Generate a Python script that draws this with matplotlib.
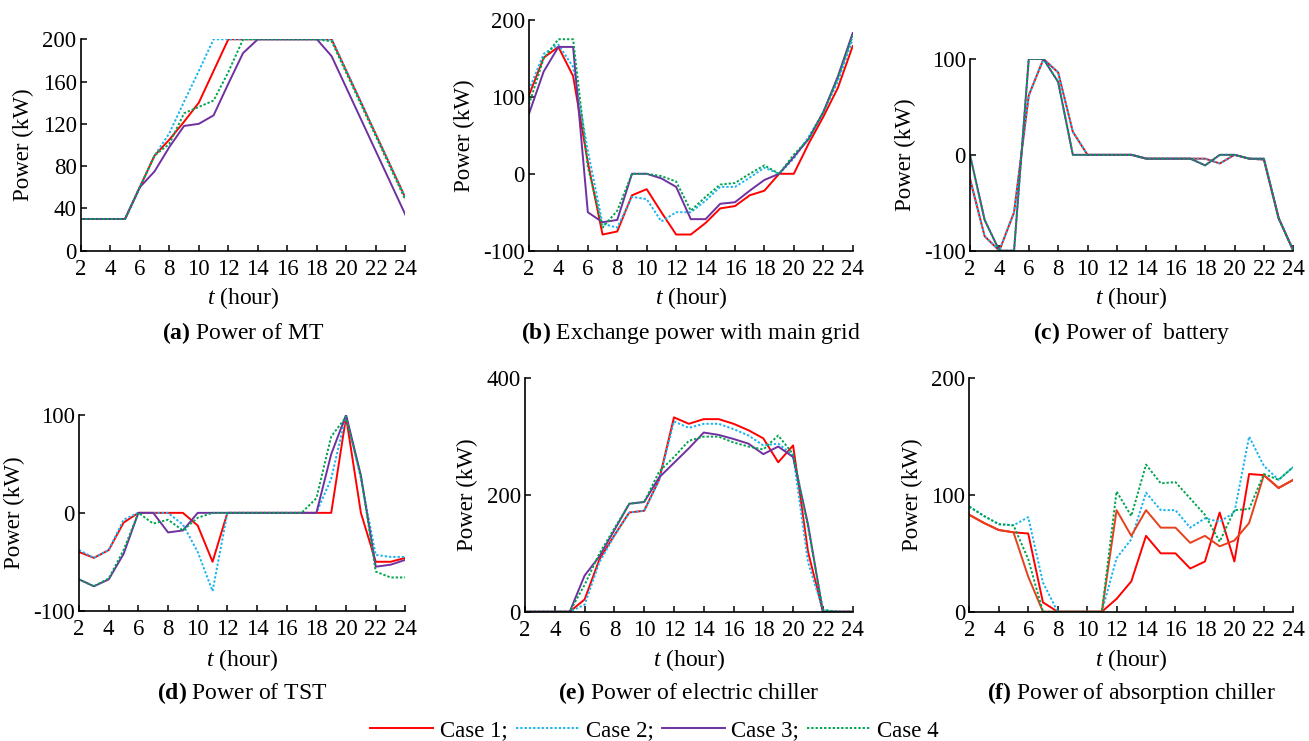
import numpy as np
import matplotlib
matplotlib.use("Agg")
from matplotlib import pyplot as plt

plt.rcParams['font.family'] = ['Liberation Serif', 'DejaVu Serif']
plt.rcParams['mathtext.fontset'] = 'custom'
plt.rcParams['mathtext.rm'] = 'Liberation Serif'
plt.rcParams['mathtext.it'] = 'Liberation Serif:italic'
plt.rcParams['mathtext.bf'] = 'Liberation Serif:bold'
plt.rcParams['axes.unicode_minus'] = False

hours = list(range(2, 25))

# (a) power of MT
mt_c1 = [30, 30, 30, 30, 60, 90, 105, 122, 140, 170, 200, 200, 200, 200, 200, 200, 200, 200, 170, 140, 110, 80, 50]
mt_c2 = [30, 30, 30, 30, 60, 90, 111, 141, 170, 200, 200, 200, 200, 200, 200, 200, 200, 200, 170, 140, 110, 80, 50]
mt_c3 = [30, 30, 30, 30, 60, 75, 98, 118, 120, 128, 158, 187, 200, 200, 200, 200, 200, 184, 154, 124, 94, 64, 34]
mt_c4 = [30, 30, 30, 30, 60, 90, 101, 130, 136, 142, 169, 200, 200, 200, 200, 200, 200, 198, 168, 138, 108, 78, 48]

# (b) exchange power with main grid
grid_c1 = [102, 151, 165, 127, 15, -79, -75, -28, -20, -50, -79, -79, -64, -45, -42, -28, -22, 0, 0, 39, 74, 112, 166]
grid_c2 = [109, 156, 168, 139, 30, -65, -70, -30, -33, -62, -50, -50, -35, -17, -17, -5, 8, 0, 20, 48, 80, 120, 175]
grid_c3 = [78, 133, 165, 165, -50, -63, -60, 0, 0, -6, -17, -59, -59, -39, -37, -22, -8, 0, 22, 45, 80, 127, 183]
grid_c4 = [90, 150, 175, 175, 9, -70, -48, 0, 0, -3, -10, -48, -30, -14, -12, 0, 11, 0, 25, 45, 80, 125, 180]

# (c) power of battery
bat_c1 = [-25, -85, -100, -60, 62, 100, 86, 24, 0, 0, 0, 0, -4, -4, -4, -4, -4, -9, 0, -4, -5, -66, -100]
bat_c2 = [-25, -85, -100, -60, 62, 100, 86, 24, 0, 0, 0, 0, -4, -4, -4, -4, -4, -9, 0, -4, -5, -66, -100]
bat_c3 = [0, -68, -100, -100, 100, 100, 76, 0, 0, 0, 0, 0, -4, -4, -4, -4, -11, 0, 0, -4, -4, -66, -100]
bat_c4 = [0, -68, -100, -100, 100, 100, 76, 0, 0, 0, 0, 0, -4, -4, -4, -4, -11, 0, 0, -4, -4, -66, -100]

# (d) power of TST
tst_c1 = [-40, -46, -38, -10, 0, 0, 0, 0, -13, -50, 0, 0, 0, 0, 0, 0, 0, 0, 98, 0, -50, -50, -46]
tst_c2 = [-38, -46, -38, -7, 0, 0, 0, -12, -40, -80, 0, 0, 0, 0, 0, 0, 0, 35, 100, 35, -43, -45, -45]
tst_c3 = [-68, -75, -68, -42, 0, 0, -20, -18, 0, 0, 0, 0, 0, 0, 0, 0, 0, 60, 100, 38, -55, -53, -48]
tst_c4 = [-68, -75, -67, -38, 0, -11, -7, -18, -5, 0, 0, 0, 0, 0, 0, 0, 15, 78, 98, 38, -60, -66, -66]

# (e) power of electric chiller
ec_c1 = [0, 0, 0, 0, 21, 90, 131, 170, 173, 226, 333, 322, 330, 330, 322, 311, 297, 256, 285, 103, 0, 0, 0]
ec_c2 = [0, 0, 0, 0, 12, 85, 130, 170, 173, 225, 326, 315, 322, 322, 313, 302, 285, 288, 268, 85, 3, 0, 0]
ec_c3 = [0, 0, 0, 0, 62, 95, 140, 185, 188, 230, 255, 280, 307, 303, 296, 288, 270, 283, 265, 150, 0, 0, 0]
ec_c4 = [0, 0, 0, 0, 46, 100, 143, 185, 188, 240, 265, 293, 300, 300, 290, 283, 278, 302, 270, 145, 3, 0, 0]

# (f) power of absorption chiller
ac_c1 = [83, 76, 70, 68, 67, 8, 0, 0, 0, 0, 11, 26, 65, 50, 50, 37, 43, 85, 43, 118, 117, 106, 113]
ac_c2 = [90, 82, 75, 74, 81, 25, 0, 0, 0, 0, 46, 62, 102, 87, 87, 72, 80, 77, 85, 150, 125, 113, 124]
ac_c3 = [83, 76, 70, 68, 30, 0, 0, 0, 0, 0, 87, 65, 87, 72, 72, 59, 65, 56, 61, 76, 117, 106, 113]
ac_c4 = [90, 82, 75, 74, 45, 0, 0, 0, 0, 0, 103, 82, 126, 110, 111, 97, 83, 60, 87, 88, 118, 113, 124]

red = '#ff0000'
blue = '#1ab4f0'
purple = '#7030a0'
green = '#00a550'

panels = [
    # data, ylim, yticks, axes position, caption, tag
    ((mt_c1, mt_c2, mt_c3, mt_c4), (0, 200), [0, 40, 80, 120, 160, 200],
     [0.0617, 0.6617, 0.248, 0.2853], 'Power of MT', '(a)'),
    ((grid_c1, grid_c2, grid_c3, grid_c4), (-100, 200), [-100, 0, 100, 200],
     [0.4041, 0.6617, 0.2473, 0.3113], 'Exchange power with main grid', '(b)'),
    ((bat_c1, bat_c2, bat_c3, bat_c4), (-100, 100), [-100, 0, 100],
     [0.741, 0.6617, 0.247, 0.2587], 'Power of  battery', '(c)'),
    ((tst_c1, tst_c2, tst_c3, tst_c4), (-100, 100), [-100, 0, 100],
     [0.0604, 0.1758, 0.2493, 0.2642], 'Power of TST', '(d)'),
    ((ec_c1, ec_c2, ec_c3, ec_c4), (0, 400), [0, 200, 400],
     [0.4011, 0.1745, 0.2503, 0.315], 'Power of electric chiller', '(e)'),
    ((ac_c1, ac_c2, ac_c3, ac_c4), (0, 200), [0, 100, 200],
     [0.7405, 0.1745, 0.2475, 0.315], 'Power of absorption chiller', '(f)'),
]

fig = plt.figure(figsize=(13.09, 7.41), dpi=100)
fs = 16.5
fs2 = 17

for i, (data, ylim, yticks, pos, cap, tag) in enumerate(panels):
    ax = fig.add_axes(pos)
    c1, c2, c3, c4 = data
    col3 = '#e8401c' if tag == '(f)' else purple
    l1, = ax.plot(hours, c1, color=red, lw=1.4)
    l2, = ax.plot(hours, c2, color=blue, lw=1.4, ls=(0, (1.2, 1.0)))
    l3, = ax.plot(hours, c3, color=col3, lw=1.4)
    l4, = ax.plot(hours, c4, color=green, lw=1.4, ls=(0, (1.2, 1.0)))
    ax.set_xlim(2, 24)
    ax.set_ylim(*ylim)
    ax.set_xticks(range(2, 25, 2))
    ax.set_yticks(yticks)
    ax.tick_params(direction='in', length=4, width=1.1, labelsize=fs, pad=3)
    ax.tick_params(axis='x', pad=6)
    for s in ['top', 'right']:
        ax.spines[s].set_visible(False)
    for s in ['left', 'bottom']:
        ax.spines[s].set_linewidth(1.2)
    ax.set_ylabel('Power (kW)', fontsize=fs, labelpad=6)
    xc = pos[0] + pos[2] / 2
    row_top = pos[1] > 0.5
    fig.text(xc, 0.598 if row_top else 0.109, r'$t$ (hour)', fontsize=fs2,
             ha='center', va='center')
    fig.text(xc, 0.5506 if row_top else 0.0648,
             r'$\mathbf{' + tag + r'}$' + ' ' + cap,
             fontsize=fs2, ha='center', va='center')
    if i == 0:
        handles = [l1, l2, l3, l4]

fig.legend(handles, ['Case 1;', 'Case 2;', 'Case 3;', 'Case 4'], loc='center',
           bbox_to_anchor=(0.5, 0.0135), ncol=4, frameon=False, fontsize=fs,
           handlelength=2.75, columnspacing=0.35, handletextpad=0.3)

fig.savefig('out.png', dpi=100)
